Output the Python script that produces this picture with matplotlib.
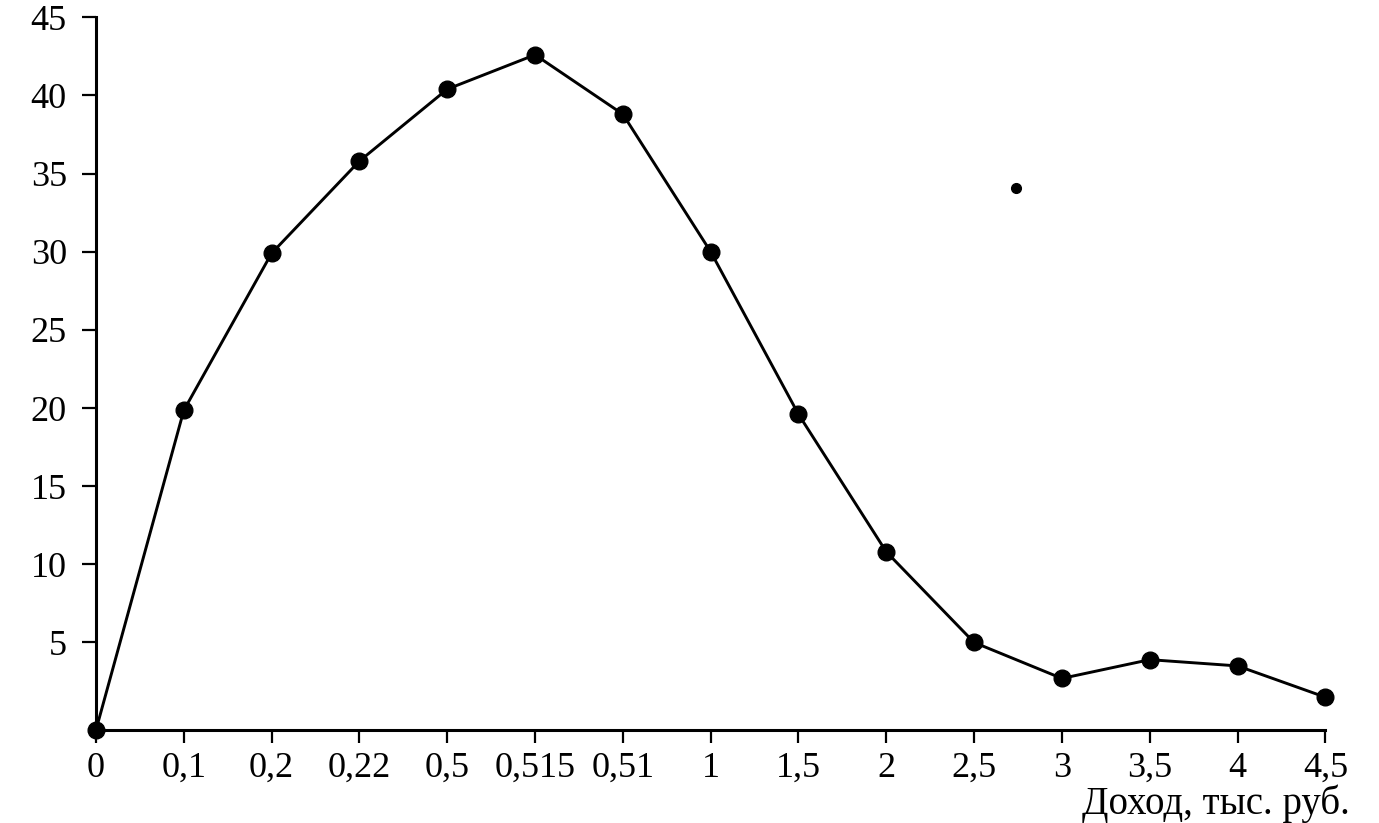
import matplotlib
matplotlib.use("Agg")
import matplotlib.pyplot as plt

categories = ["0", "0,1", "0,2", "0,22", "0,5", "0,515", "0,51", "1", "1,5",
              "2", "2,5", "3", "3,5", "4", "4,5"]
values = [-0.6, 19.85, 29.9, 35.8, 40.4, 42.6, 38.8, 30.0, 19.6, 10.8, 5.0, 2.7, 3.9, 3.5, 1.5]
yticks = [5, 10, 15, 20, 25, 30, 35, 40, 45]
stray_x = [10.48]
stray_y = [34.1]
xlabel = "Доход, тыс. руб."

plt.rcParams['font.family'] = ['Liberation Serif', 'DejaVu Serif']

fig = plt.figure(figsize=(13.79, 8.23), dpi=100)
ax = fig.add_axes([0.0696, 0.113, 0.8915, 0.866])

xs = list(range(len(categories)))
ax.plot(xs, values, color='black', lw=2.1, marker='o', ms=12,
        markerfacecolor='black', markeredgecolor='black', clip_on=False, zorder=3)
ax.plot(stray_x, stray_y, 'o', color='black', ms=7, clip_on=False)

ax.set_xlim(0, len(categories) - 1)
ax.set_ylim(-0.6, 45)
ax.set_xticks(xs)
ax.set_xticklabels(categories)
ax.set_yticks(yticks)
ax.set_yticklabels([str(t) for t in yticks])

for s in ['top', 'right']:
    ax.spines[s].set_visible(False)
for s in ['left', 'bottom']:
    ax.spines[s].set_linewidth(2.2)

ax.tick_params(axis='both', labelsize=26, width=1.6, color='black')
ax.tick_params(axis='y', length=10, pad=11)
ax.tick_params(axis='x', length=9, pad=7)

fig.text(0.979, 0.0, xlabel, ha='right', va='bottom', fontsize=28)

fig.savefig("out.png", dpi=100)
